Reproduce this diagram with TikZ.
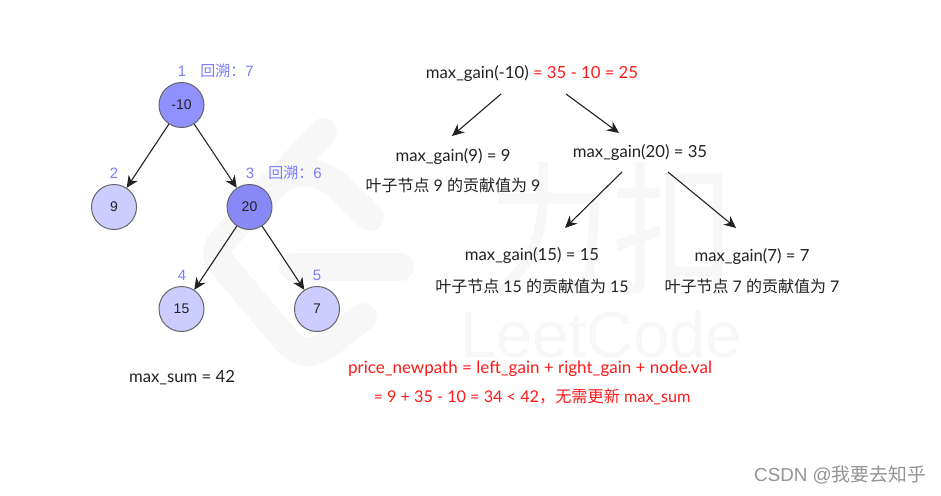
\documentclass[tikz,border=0pt]{standalone}
\usepackage{fontspec}
\setmainfont{Liberation Sans}
\newfontfamily\cjk{Noto Sans CJK SC}
\newfontfamily\hand{Lato}
\usetikzlibrary{arrows.meta}
\definecolor{wm}{HTML}{F7F7F7}
\definecolor{lab}{HTML}{7C7CFF}
\definecolor{deep}{HTML}{9090FF}
\definecolor{deeper}{HTML}{8888F6}
\definecolor{pale}{HTML}{CCCCFF}
\definecolor{ink}{HTML}{222222}
\definecolor{redt}{HTML}{FF1A1A}
\tikzset{
  treenode/.style={circle,draw=black!60,line width=1pt,minimum size=45pt,inner sep=0pt,font=\fontsize{14}{16}\selectfont,text=ink},
  numlabel/.style={text=lab,font=\fontsize{15}{17}\selectfont,inner sep=0pt,anchor=base},
  gaintext/.style={text=ink,font=\hand\fontsize{16.7}{18}\selectfont,inner sep=0pt,anchor=base},
  leaftext/.style={text=ink,font=\hand\fontsize{16}{18}\selectfont,inner sep=0pt,anchor=base},
  redtext/.style={text=redt,font=\hand\fontsize{17}{18}\selectfont,inner sep=0pt,anchor=base},
  conn/.style={draw=ink,line width=1.1pt,-{Stealth[length=12pt,width=11pt]}},
  wmstroke/.style={draw=wm,line width=28pt,line cap=round,line join=round}
}
\begin{document}
\begin{tikzpicture}[x=1pt,y=-1pt]
\useasboundingbox (0,0) rectangle (941,495);
\fill[white] (0,0) rectangle (941,495);
% watermark
\draw[wmstroke,rounded corners=14pt] (323,132) -- (212,252) -- (296,352) -- (318,352) -- (363,317);
\draw[wmstroke] (262,195) .. controls (285,168) and (315,165) .. (340,188) -- (370,217);
\draw[wmstroke] (293,267) -- (400,267);
\node[text=wm,font=\cjk\fontsize{145}{150}\selectfont,inner sep=0pt,anchor=base,xscale=.85,transform shape] (wmcn) at (612,283) {力扣};
\node[text=wm,font=\fontsize{65}{70}\selectfont,inner sep=0pt,anchor=base] (wmen) at (601,357) {LeetCode};
% tree
\node[treenode,fill=deep] (n1) at (181.5,105) {-10};
\node[treenode,fill=pale] (n2) at (114,207) {9};
\node[treenode,fill=deeper] (n3) at (249.5,207) {20};
\node[treenode,fill=pale] (n4) at (181.5,309) {15};
\node[treenode,fill=pale] (n5) at (317,309) {7};
\draw[conn] (n1) -- (n2);
\draw[conn] (n1) -- (n3);
\draw[conn] (n3) -- (n4);
\draw[conn] (n3) -- (n5);
\node[numlabel] (l1) at (182,76) {1};
\node[numlabel] (b1) at (227,76) {{\cjk 回溯：}7};
\node[numlabel] (l2) at (114,178) {2};
\node[numlabel] (l3) at (250,178) {3};
\node[numlabel] (b3) at (295,178) {{\cjk 回溯：}6};
\node[numlabel] (l4) at (182,280) {4};
\node[numlabel] (l5) at (317,280) {5};
\node[gaintext] (sum) at (182,382) {max\_sum = 42};
% gains
\node[gaintext] (g10) at (532,78) {max\_gain(-10) {\color{redt}= 35 - 10 = 25}};
\node[gaintext] (g9) at (453,161) {max\_gain(9) = 9};
\node[leaftext] (t9) at (453,191) {{\cjk 叶子节点} 9 {\cjk 的贡献值为} 9};
\node[gaintext] (g20) at (640,157) {max\_gain(20) = 35};
\node[gaintext] (g15) at (532,260) {max\_gain(15) = 15};
\node[leaftext] (t15) at (532,292) {{\cjk 叶子节点} 15 {\cjk 的贡献值为} 15};
\node[gaintext] (g7) at (752,261) {max\_gain(7) = 7};
\node[leaftext] (t7) at (752,292) {{\cjk 叶子节点} 7 {\cjk 的贡献值为} 7};
\draw[conn] ([shift={(-31,16)}]g10.base) -- ([shift={(-1,-25)}]g9.base);
\draw[conn] ([shift={(34,16)}]g10.base) -- ([shift={(-21,-24)}]g20.base);
\draw[conn] ([shift={(-18,15)}]g20.base) -- ([shift={(33,-32)}]g15.base);
\draw[conn] ([shift={(28,15)}]g20.base) -- ([shift={(-16,-33)}]g7.base);
% formula
\node[redtext] (f1) at (530,373) {price\_newpath = left\_gain + right\_gain + node.val};
\node[redtext,font=\hand\fontsize{16.2}{18}\selectfont] (f2) at (532,402) {= 9 + 35 - 10 = 34 < 42{\cjk ，无需更新} max\_sum};
\node[text=black!42,font=\fontsize{18.8}{20}\selectfont,inner sep=0pt,anchor=base] (csdn) at (840,481) {CSDN @{\cjk 我要去知乎}};
\end{tikzpicture}
\end{document}
